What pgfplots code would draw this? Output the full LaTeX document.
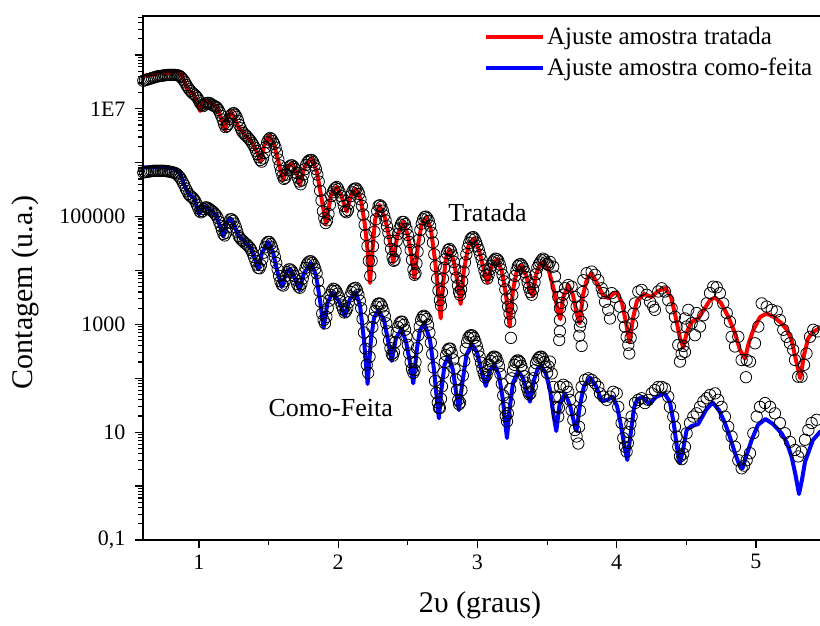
\documentclass[border=0pt]{standalone}
\usepackage{pgfplots}
\pgfplotsset{compat=1.18}
\usepackage{fontspec}
\setmainfont{Liberation Serif}
\begin{document}
\begin{tikzpicture}
\useasboundingbox (0,0) rectangle (820pt,626pt);
\begin{axis}[
  at={(143pt,86pt)}, anchor=south west,
  scale only axis, width=682.6pt, height=524pt,
  xmin=0.598, xmax=5.5, ymin=-1, ymax=8.722,
  axis line style={line width=1.4pt},
  xtick={1,2,3,4,5}, minor xtick={1.5,2.5,3.5,4.5,5.5},
  xtick pos=bottom, ytick pos=left, tick align=outside,
  major tick length=8pt, minor tick length=5pt,
  tick style={line width=1.2pt, black},
  ytick={-1,0,1,2,3,4,5,6,7,8},
  yticklabels={{0,1},,10,,1000,,100000,,1E7,},
  minor ytick={-0.699,-0.523,-0.398,-0.301,-0.222,-0.155,-0.097,-0.046,
    0.301,0.477,0.602,0.699,0.778,0.845,0.903,0.954,
    1.301,1.477,1.602,1.699,1.778,1.845,1.903,1.954,
    2.301,2.477,2.602,2.699,2.778,2.845,2.903,2.954,
    3.301,3.477,3.602,3.699,3.778,3.845,3.903,3.954,
    4.301,4.477,4.602,4.699,4.778,4.845,4.903,4.954,
    5.301,5.477,5.602,5.699,5.778,5.845,5.903,5.954,
    6.301,6.477,6.602,6.699,6.778,6.845,6.903,6.954,
    7.301,7.477,7.602,7.699,7.778,7.845,7.903,7.954,
    8.301,8.477,8.602,8.699},
  /pgf/number format/assume math mode=true,
  tick label style={font=\fontsize{22}{24}\selectfont},
  yticklabel style={xshift=-6pt},
  xticklabel style={yshift=-3pt},
  xlabel={2υ (graus)}, ylabel={Contagem (u.a.)},
  label style={font=\fontsize{30}{34}\selectfont},
  xlabel style={at={(axis description cs:0.4937,0)}, anchor=center, yshift=-65pt},
  ylabel style={at={(axis description cs:-0.173,0.473)}, anchor=center},
  legend style={draw=none, fill=none, at={(axis description cs:0.495,1.0)}, anchor=north west,
    yshift=-7pt, font=\fontsize{25}{29}\selectfont, row sep=8pt},
  legend cell align=left,
  legend image code/.code={\draw[#1] (0pt,0pt) -- (57pt,0pt);},
]
% dados amostra tratada
\addplot[only marks, mark=o, mark size=5.7pt, mark options={line width=0.8pt, black}, forget plot] coordinates {
(0.600,7.52)(0.612,7.53)(0.625,7.54)(0.637,7.55)(0.650,7.56)(0.662,7.57)(0.675,7.58)(0.687,7.59)(0.700,7.60)(0.712,7.605)
(0.725,7.61)(0.737,7.615)(0.750,7.62)(0.762,7.625)(0.775,7.63)(0.787,7.63)(0.800,7.63)(0.812,7.63)(0.825,7.63)(0.837,7.625)
(0.850,7.62)(0.860,7.61)(0.870,7.59)(0.880,7.56)(0.890,7.53)(0.900,7.49)(0.910,7.44)(0.920,7.40)(0.930,7.36)(0.940,7.33)
(0.950,7.30)(0.960,7.28)(0.970,7.26)(0.980,7.23)(0.990,7.20)(1.000,7.15)(1.010,7.10)(1.020,7.07)(1.030,7.05)(1.040,7.08)
(1.050,7.10)(1.060,7.11)(1.070,7.11)(1.080,7.10)(1.090,7.08)(1.100,7.065)(1.110,7.05)(1.120,7.04)(1.130,7.02)(1.140,6.98)
(1.150,6.93)(1.160,6.87)(1.170,6.80)(1.180,6.72)(1.190,6.66)(1.200,6.68)(1.210,6.72)(1.220,6.81)(1.230,6.88)(1.240,6.91)
(1.250,6.92)(1.260,6.89)(1.270,6.85)(1.280,6.78)(1.290,6.70)(1.300,6.64)(1.310,6.58)(1.320,6.55)(1.330,6.52)(1.340,6.50)
(1.350,6.47)(1.360,6.44)(1.370,6.41)(1.380,6.37)(1.390,6.33)(1.400,6.28)(1.410,6.22)(1.420,6.16)(1.430,6.10)(1.440,6.05)
(1.450,6.02)(1.460,6.08)(1.470,6.18)(1.480,6.29)(1.490,6.38)(1.500,6.43)(1.510,6.46)(1.520,6.44)(1.530,6.40)(1.540,6.35)
(1.550,6.28)(1.560,6.18)(1.570,6.06)(1.580,5.95)(1.590,5.85)(1.600,5.76)(1.610,5.70)(1.620,5.72)(1.630,5.78)(1.640,5.86)
(1.650,5.93)(1.660,5.95)(1.670,5.95)(1.680,5.92)(1.690,5.88)(1.700,5.81)(1.710,5.72)(1.720,5.65)(1.730,5.60)(1.740,5.67)
(1.750,5.78)(1.760,5.88)(1.770,5.96)(1.780,6.01)(1.790,6.04)(1.800,6.05)(1.810,6.05)(1.820,6.01)(1.830,5.95)(1.840,5.88)
(1.850,5.78)(1.860,5.65)(1.870,5.48)(1.880,5.30)(1.890,5.10)(1.900,4.97)(1.910,4.88)(1.920,4.93)(1.930,5.05)(1.940,5.22)
(1.950,5.38)(1.960,5.45)(1.970,5.50)(1.980,5.53)(1.990,5.55)(2.000,5.51)(2.010,5.45)(2.020,5.38)(2.030,5.30)(2.040,5.20)
(2.050,5.10)(2.060,5.08)(2.070,5.12)(2.080,5.25)(2.090,5.38)(2.100,5.45)(2.110,5.50)(2.120,5.52)(2.130,5.52)(2.140,5.48)
(2.150,5.42)(2.160,5.32)(2.170,5.20)(2.180,5.04)(2.190,4.85)(2.200,4.66)(2.210,4.45)(2.220,4.18)(2.230,3.90)
(2.240,4.18)(2.250,4.45)(2.260,4.72)(2.270,4.95)(2.280,5.10)(2.290,5.20)(2.300,5.21)(2.310,5.18)(2.320,5.11)(2.330,5.02)
(2.340,4.93)(2.350,4.82)(2.360,4.70)(2.370,4.55)(2.380,4.40)(2.390,4.25)(2.398,4.18)(2.405,4.20)(2.412,4.36)(2.420,4.55)
(2.430,4.68)(2.440,4.78)(2.450,4.85)(2.460,4.90)(2.470,4.90)(2.480,4.86)(2.490,4.77)(2.500,4.66)(2.510,4.53)(2.520,4.38)
(2.530,4.20)(2.540,4.02)(2.548,3.92)(2.555,3.95)(2.562,4.13)(2.570,4.35)(2.580,4.57)(2.590,4.75)(2.600,4.87)(2.610,4.95)
(2.620,4.99)(2.630,5.00)(2.640,4.97)(2.650,4.92)(2.660,4.83)(2.670,4.70)(2.680,4.52)(2.690,4.30)(2.700,4.08)(2.710,3.85)
(2.720,3.63)(2.730,3.45)(2.738,3.35)(2.745,3.60)(2.752,3.85)(2.760,4.05)(2.770,4.21)(2.780,4.32)(2.790,4.38)(2.800,4.40)
(2.810,4.36)(2.820,4.28)(2.830,4.16)(2.840,4.02)(2.850,3.87)(2.860,3.72)(2.868,3.60)(2.875,3.55)(2.882,3.65)(2.890,3.80)
(2.900,3.98)(2.910,4.15)(2.920,4.30)(2.930,4.42)(2.940,4.51)(2.950,4.58)(2.960,4.61)(2.970,4.62)(2.980,4.58)(2.990,4.52)
(3.000,4.45)(3.010,4.38)(3.020,4.29)(3.030,4.20)(3.040,4.10)(3.050,4.00)(3.060,3.91)(3.070,3.85)(3.080,3.92)(3.090,4.02)
(3.100,4.09)(3.110,4.15)(3.120,4.19)(3.130,4.22)(3.140,4.21)(3.150,4.18)(3.160,4.11)(3.170,4.02)(3.180,3.92)(3.190,3.80)
(3.200,3.65)(3.210,3.48)(3.220,3.33)(3.230,3.20)(3.235,3.05)(3.240,2.75)(3.245,3.30)(3.250,3.55)(3.260,3.74)(3.270,3.90)
(3.280,4.00)(3.290,4.08)(3.300,4.11)(3.310,4.12)(3.320,4.09)(3.330,4.04)(3.340,3.97)(3.350,3.88)(3.360,3.78)(3.370,3.68)
(3.380,3.60)(3.390,3.55)(3.400,3.65)(3.410,3.78)(3.420,3.93)(3.430,4.05)(3.440,4.11)(3.450,4.15)(3.460,4.19)(3.470,4.22)
(3.480,4.20)(3.490,4.15)(3.500,4.12)(3.510,4.10)
(3.520,4.16)(3.544,4.07)(3.557,3.89)(3.569,3.70)(3.580,3.51)(3.592,3.30)(3.592,3.08)(3.592,2.87)(3.587,2.71)
(3.605,3.40)(3.615,3.55)(3.628,3.67)(3.652,3.73)(3.676,3.70)(3.700,3.51)(3.712,3.33)(3.724,3.14)(3.736,2.96)(3.731,2.79)(3.748,2.60)
(3.745,3.05)(3.750,3.35)(3.755,3.60)
(3.760,3.82)(3.784,3.95)(3.820,3.98)(3.844,3.92)(3.868,3.82)(3.892,3.67)(3.903,3.58)(3.916,3.42)(3.939,3.27)(3.952,3.11)
(3.964,3.58)(3.987,3.51)(4.023,3.33)(4.047,3.14)(4.059,2.96)(4.071,2.77)(4.083,2.62)(4.090,2.46)
(4.100,2.75)(4.110,3.00)(4.120,3.20)
(4.131,3.39)(4.155,3.61)(4.179,3.64)(4.215,3.55)(4.239,3.42)(4.262,3.33)(4.274,3.27)(4.298,3.61)(4.323,3.67)(4.346,3.61)
(4.370,3.45)(4.394,3.30)(4.418,3.14)(4.430,2.96)(4.442,2.62)(4.454,2.31)(4.466,2.45)(4.478,2.60)(4.484,2.75)(4.490,2.49)
(4.490,3.11)(4.502,2.96)(4.514,3.27)(4.538,3.02)(4.562,2.80)(4.574,3.21)(4.598,2.96)(4.622,3.17)(4.646,3.39)(4.670,3.58)
(4.693,3.70)(4.718,3.69)(4.741,3.58)(4.765,3.39)(4.790,3.21)(4.813,3.05)(4.825,2.77)(4.849,2.59)(4.873,2.77)(4.897,2.34)
(4.933,2.34)(4.957,2.31)(4.928,2.02)(4.993,2.65)(5.017,2.96)(5.041,3.39)(5.077,3.33)(5.113,3.27)(5.149,3.24)(5.172,3.08)
(5.196,2.90)(5.220,2.77)(5.244,2.65)(5.267,2.53)(5.280,2.34)(5.303,2.03)(5.327,2.03)(5.345,2.25)(5.363,2.46)(5.388,2.77)(5.411,2.90)(5.443,2.87)
};
% dados amostra como-feita
\addplot[only marks, mark=o, mark size=5.7pt, mark options={line width=0.8pt, black}, forget plot] coordinates {
(0.600,5.82)(0.612,5.825)(0.625,5.83)(0.637,5.835)(0.650,5.84)(0.662,5.845)(0.675,5.85)(0.687,5.85)(0.700,5.85)(0.712,5.85)
(0.725,5.85)(0.737,5.85)(0.750,5.85)(0.762,5.845)(0.775,5.84)(0.787,5.835)(0.800,5.83)(0.812,5.82)(0.825,5.81)(0.835,5.80)
(0.845,5.78)(0.855,5.75)(0.865,5.72)(0.875,5.68)(0.885,5.63)(0.895,5.58)(0.905,5.52)(0.915,5.47)(0.925,5.42)(0.935,5.39)
(0.945,5.37)(0.955,5.35)(0.965,5.32)(0.975,5.28)(0.985,5.22)(0.995,5.16)(1.005,5.10)(1.015,5.08)(1.025,5.10)(1.035,5.14)
(1.045,5.17)(1.055,5.17)(1.065,5.16)(1.075,5.14)(1.085,5.12)(1.095,5.10)(1.105,5.08)(1.115,5.05)(1.125,5.02)(1.135,4.97)
(1.145,4.90)(1.155,4.83)(1.165,4.75)(1.175,4.68)(1.185,4.65)(1.195,4.70)(1.205,4.80)(1.215,4.89)(1.225,4.95)(1.235,4.95)
(1.245,4.92)(1.255,4.87)(1.265,4.80)(1.275,4.72)(1.285,4.64)(1.295,4.60)(1.305,4.57)(1.315,4.55)(1.325,4.52)(1.335,4.50)
(1.345,4.48)(1.355,4.45)(1.365,4.42)(1.375,4.38)(1.385,4.32)(1.395,4.25)(1.405,4.18)(1.415,4.11)(1.425,4.05)(1.435,4.04)
(1.445,4.10)(1.455,4.21)(1.465,4.33)(1.475,4.43)(1.485,4.50)(1.495,4.53)(1.505,4.53)(1.515,4.49)(1.525,4.43)(1.535,4.35)
(1.545,4.25)(1.555,4.14)(1.565,4.02)(1.575,3.90)(1.585,3.80)(1.595,3.74)(1.605,3.72)(1.615,3.80)(1.625,3.90)(1.635,3.97)
(1.645,4.02)(1.655,4.02)(1.665,4.00)(1.675,3.96)(1.685,3.90)(1.695,3.83)(1.705,3.75)(1.715,3.70)(1.725,3.68)(1.735,3.75)
(1.745,3.85)(1.755,3.96)(1.765,4.05)(1.775,4.11)(1.785,4.15)(1.795,4.17)(1.805,4.17)(1.815,4.14)(1.825,4.10)(1.835,4.03)
(1.845,3.95)(1.855,3.80)(1.865,3.62)(1.875,3.42)(1.885,3.20)(1.895,3.08)(1.905,3.02)(1.915,3.14)(1.925,3.30)(1.935,3.44)
(1.945,3.55)(1.955,3.62)(1.965,3.66)(1.975,3.65)(1.985,3.62)(1.995,3.57)(2.005,3.50)(2.015,3.43)(2.025,3.35)(2.035,3.28)
(2.045,3.22)(2.055,3.24)(2.065,3.30)(2.075,3.41)(2.085,3.52)(2.095,3.60)(2.105,3.65)(2.115,3.67)(2.125,3.68)(2.135,3.63)
(2.145,3.55)(2.155,3.44)(2.165,3.30)(2.175,3.10)(2.185,2.85)(2.195,2.55)(2.205,2.25)(2.215,2.10)
(2.225,2.40)(2.235,2.68)(2.245,2.95)(2.255,3.12)(2.265,3.25)(2.275,3.33)(2.285,3.38)(2.295,3.39)(2.305,3.38)(2.315,3.33)
(2.325,3.25)(2.335,3.15)(2.345,3.02)(2.355,2.87)(2.365,2.70)(2.375,2.56)(2.385,2.45)(2.392,2.42)(2.400,2.48)(2.410,2.67)
(2.420,2.85)(2.430,2.95)(2.440,3.02)(2.450,3.05)(2.460,3.05)(2.470,2.99)(2.480,2.90)(2.490,2.77)(2.500,2.62)(2.510,2.46)
(2.520,2.30)(2.530,2.17)(2.540,2.10)(2.548,2.15)(2.555,2.30)(2.565,2.56)(2.575,2.80)(2.585,2.96)(2.595,3.08)(2.605,3.14)
(2.615,3.16)(2.625,3.14)(2.635,3.10)(2.645,2.99)(2.655,2.85)(2.665,2.66)(2.675,2.45)(2.685,2.20)(2.695,1.95)(2.705,1.73)
(2.715,1.55)(2.723,1.45)(2.730,1.45)(2.738,1.62)(2.745,1.85)(2.755,2.10)(2.765,2.30)(2.775,2.43)(2.785,2.52)(2.795,2.55)
(2.805,2.55)(2.815,2.47)(2.825,2.35)(2.835,2.18)(2.845,1.98)(2.853,1.78)(2.862,1.60)(2.868,1.52)(2.875,1.55)(2.885,1.78)
(2.895,2.05)(2.905,2.32)(2.915,2.55)(2.925,2.67)(2.935,2.75)(2.945,2.79)(2.955,2.80)(2.965,2.79)(2.975,2.75)(2.985,2.68)
(2.995,2.60)(3.005,2.50)(3.015,2.40)(3.025,2.29)(3.035,2.18)(3.045,2.09)(3.055,2.02)(3.065,2.06)(3.075,2.15)(3.085,2.25)
(3.095,2.32)(3.105,2.37)(3.115,2.40)(3.125,2.40)(3.135,2.38)(3.145,2.31)(3.155,2.22)(3.165,2.08)(3.175,1.90)(3.185,1.68)
(3.195,1.45)(3.203,1.30)(3.212,1.20)(3.218,1.35)(3.225,1.55)(3.235,1.80)(3.245,2.00)(3.255,2.14)(3.265,2.25)(3.275,2.30)
(3.285,2.33)(3.295,2.33)(3.305,2.30)(3.315,2.23)(3.325,2.15)(3.335,2.04)(3.345,1.92)(3.355,1.83)(3.365,1.75)(3.372,1.70)
(3.380,1.72)(3.390,1.85)(3.400,2.00)(3.410,2.15)(3.420,2.28)(3.430,2.34)(3.440,2.38)(3.450,2.40)(3.460,2.40)(3.470,2.36)
(3.480,2.30)(3.490,2.21)(3.500,2.10)(3.510,2.22)
(3.520,2.31)(3.533,2.09)(3.544,1.84)(3.557,1.66)(3.569,1.47)(3.580,1.29)(3.585,1.45)(3.588,1.65)(3.592,1.84)(3.616,1.88)
(3.640,1.84)(3.652,1.75)(3.664,1.60)(3.676,1.41)(3.688,1.23)(3.700,1.04)(3.712,0.92)(3.724,0.79)(3.730,1.10)(3.736,1.40)(3.742,1.65)
(3.748,1.84)(3.772,1.97)(3.796,2.00)(3.820,1.97)(3.844,1.91)(3.868,1.84)(3.880,1.72)(3.903,1.66)(3.928,1.60)(3.952,1.66)
(3.975,1.75)(4.000,1.72)(4.011,1.47)(4.035,1.17)(4.047,0.89)(4.059,0.73)(4.071,0.64)(4.080,0.80)(4.090,1.00)(4.098,1.15)
(4.107,1.29)(4.131,1.54)(4.155,1.60)
(4.179,1.63)(4.203,1.54)(4.227,1.60)(4.251,1.72)(4.274,1.78)(4.298,1.84)(4.323,1.84)(4.346,1.81)(4.370,1.66)(4.382,1.47)
(4.406,1.29)(4.418,1.10)(4.430,0.92)(4.442,0.73)(4.454,0.55)(4.466,0.50)(4.478,0.60)
(4.490,0.73)(4.502,0.98)(4.526,1.17)(4.550,1.29)(4.574,1.35)(4.598,1.47)(4.622,1.57)(4.646,1.63)(4.670,1.69)(4.706,1.72)
(4.729,1.60)(4.753,1.47)(4.777,1.29)(4.801,1.10)(4.825,0.92)(4.849,0.73)(4.873,0.48)(4.897,0.33)(4.915,0.38)(4.933,0.48)(4.957,0.61)
(4.981,0.98)(5.005,1.29)(5.029,1.47)(5.065,1.54)(5.101,1.47)(5.136,1.35)(5.172,1.17)(5.208,0.98)(5.244,0.82)(5.280,0.67)
(5.303,0.55)(5.327,0.64)(5.352,0.86)(5.376,1.04)(5.400,1.17)(5.436,1.23)
};
% ajuste tratada
\addplot[red, line width=4pt, line join=round] coordinates {
(0.598,7.609)(0.720,7.655)(0.840,7.677)(0.876,7.627)(0.912,7.410)(0.935,7.312)(0.960,7.275)(0.986,7.108)(1.009,6.959)(1.029,7.089)
(1.047,7.150)(1.091,7.098)(1.127,7.034)(1.154,6.867)(1.187,6.607)(1.208,6.848)(1.228,6.946)(1.255,6.848)(1.282,6.668)(1.330,6.514)
(1.381,6.384)(1.416,6.199)(1.443,6.032)(1.470,6.328)(1.505,6.495)(1.539,6.347)(1.567,6.050)(1.605,5.679)(1.636,5.920)(1.666,5.989)
(1.697,5.846)(1.725,5.586)(1.761,5.939)(1.809,6.082)(1.847,5.828)(1.876,5.401)(1.912,4.863)(1.948,5.401)(1.989,5.549)(2.023,5.382)
(2.061,5.091)(2.092,5.401)(2.127,5.512)(2.163,5.308)(2.192,4.844)(2.214,4.288)(2.228,3.768)(2.246,4.380)(2.264,4.937)(2.296,5.215)
(2.336,4.974)(2.364,4.640)(2.395,4.148)(2.425,4.659)(2.467,4.905)(2.501,4.640)(2.526,4.250)(2.548,3.861)(2.573,4.473)(2.598,4.844)
(2.634,4.998)(2.666,4.751)(2.695,4.195)(2.720,3.545)(2.736,3.113)(2.752,3.731)(2.774,4.232)(2.799,4.399)(2.831,4.158)(2.860,3.731)
(2.879,3.379)(2.903,4.009)(2.935,4.455)(2.975,4.597)(3.011,4.380)(3.047,4.009)(3.072,3.777)(3.101,4.084)(3.140,4.213)(3.176,3.972)
(3.205,3.545)(3.231,2.957)(3.255,3.638)(3.284,4.009)(3.312,4.102)(3.348,3.917)(3.377,3.638)(3.397,3.527)(3.420,3.917)(3.449,4.121)
(3.478,4.163)(3.513,3.991)(3.549,3.638)(3.578,3.230)(3.595,3.100)(3.614,3.490)(3.653,3.731)(3.686,3.545)(3.715,3.174)(3.734,3.020)
(3.758,3.545)(3.786,3.842)(3.820,3.948)(3.858,3.768)(3.901,3.545)(3.941,3.484)(3.973,3.564)(4.002,3.601)(4.038,3.397)(4.066,3.045)
(4.092,2.664)(4.117,3.119)(4.145,3.434)(4.196,3.564)(4.251,3.508)(4.296,3.620)(4.350,3.670)(4.390,3.508)(4.425,3.119)(4.454,2.748)
(4.478,2.571)(4.504,2.859)(4.538,3.045)(4.586,3.113)(4.634,3.304)(4.670,3.453)(4.706,3.499)(4.749,3.397)(4.801,3.143)(4.849,2.840)
(4.885,2.525)(4.921,2.367)(4.950,2.674)(4.981,2.896)(5.029,3.137)(5.077,3.202)(5.129,3.137)(5.184,3.020)(5.223,2.896)(5.256,2.711)
(5.287,2.340)(5.318,2.000)(5.345,2.432)(5.375,2.742)(5.409,2.859)(5.459,2.933)(5.500,2.960)
};
\addlegendentry{Ajuste amostra tratada}
% ajuste como-feita
\addplot[blue, line width=4pt, line join=round] coordinates {
(0.598,5.915)(0.720,5.911)(0.815,5.896)(0.864,5.803)(0.899,5.555)(0.935,5.401)(0.964,5.345)(1.002,5.048)(1.029,5.178)(1.043,5.187)
(1.091,5.104)(1.122,5.030)(1.151,4.826)(1.176,4.631)(1.201,4.900)(1.223,4.969)(1.251,4.844)(1.282,4.659)(1.330,4.534)(1.373,4.417)
(1.402,4.213)(1.426,4.019)(1.452,4.325)(1.498,4.529)(1.531,4.343)(1.560,4.009)(1.594,3.694)(1.625,3.954)(1.650,4.028)(1.682,3.898)
(1.722,3.638)(1.754,3.954)(1.806,4.134)(1.840,3.917)(1.869,3.453)(1.895,2.933)(1.923,3.397)(1.959,3.592)(2.005,3.434)(2.048,3.156)
(2.084,3.471)(2.127,3.592)(2.156,3.360)(2.185,2.711)(2.211,1.894)(2.235,2.711)(2.257,3.119)(2.288,3.267)(2.329,3.082)(2.357,2.711)
(2.384,2.321)(2.415,2.748)(2.456,2.915)(2.487,2.674)(2.515,2.302)(2.539,1.907)(2.566,2.562)(2.587,2.896)(2.619,3.020)(2.659,2.711)
(2.688,2.154)(2.709,1.597)(2.723,1.258)(2.741,1.783)(2.763,2.247)(2.792,2.414)(2.824,2.154)(2.849,1.690)(2.867,1.412)(2.889,1.876)
(2.921,2.432)(2.960,2.636)(2.996,2.488)(3.032,2.117)(3.060,1.857)(3.090,2.154)(3.124,2.247)(3.154,2.061)(3.183,1.597)(3.201,1.134)
(3.212,0.892)(3.230,1.412)(3.255,1.913)(3.293,2.135)(3.327,2.006)(3.355,1.746)(3.377,1.566)(3.406,1.968)(3.434,2.191)(3.461,2.228)
(3.492,2.080)(3.521,1.783)(3.546,1.319)(3.566,1.022)(3.589,1.505)(3.628,1.722)(3.664,1.505)(3.693,1.189)(3.711,1.022)(3.736,1.505)
(3.765,1.857)(3.808,2.015)(3.851,1.857)(3.892,1.579)(3.930,1.597)(3.973,1.653)(4.002,1.486)(4.030,1.134)(4.056,0.725)(4.076,0.484)
(4.099,0.948)(4.124,1.449)(4.145,1.597)(4.185,1.659)(4.232,1.523)(4.282,1.653)(4.343,1.722)(4.382,1.560)(4.411,1.134)(4.433,0.707)
(4.454,0.423)(4.476,0.670)(4.502,1.041)(4.538,1.115)(4.586,1.152)(4.641,1.412)(4.688,1.551)(4.734,1.412)(4.777,1.171)(4.813,0.911)
(4.849,0.614)(4.878,0.410)(4.903,0.327)(4.928,0.540)(4.969,0.855)(5.014,1.134)(5.068,1.245)(5.122,1.152)(5.184,0.980)(5.223,0.800)
(5.256,0.540)(5.284,0.206)(5.309,-0.147)(5.330,0.113)(5.352,0.447)(5.375,0.614)(5.409,0.855)(5.459,1.004)(5.500,1.050)
};
\addlegendentry{Ajuste amostra como-feita}
\node[anchor=base, font=\fontsize{26}{30}\selectfont] at (axis cs:3.072,4.905) {Tratada};
\node[anchor=base, font=\fontsize{26}{30}\selectfont] at (axis cs:1.946,1.30) {Como-Feita};
\end{axis}
\end{tikzpicture}
\end{document}
